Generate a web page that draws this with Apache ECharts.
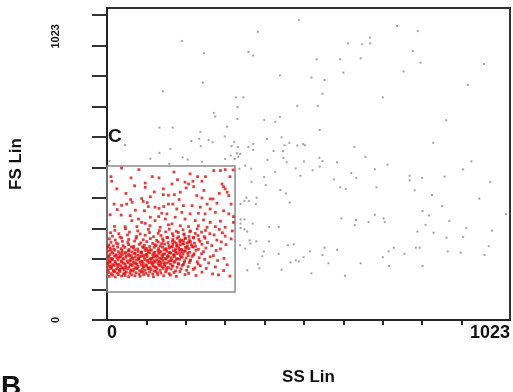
<!DOCTYPE html>
<html>
<head>
<meta charset="utf-8">
<script src="https://cdn.jsdelivr.net/npm/echarts@6/dist/echarts.min.js"></script>
<style>
  html, body { margin: 0; padding: 0; background: #fff; }
  #chart { width: 513px; height: 392px; }
</style>
</head>
<body>
<div id="chart"></div>
<script>
// axis ticks (linear channel scale 0..1023)
const axisMax = 1023;
const tickValues = [0, 100, 200, 300, 400, 500, 600, 700, 800, 900, 1000];
const xTickValues = [100, 200, 300, 400, 500, 600, 700, 800, 900];

// gate C region
const gateSS = [0, 325];
const gateFS = [92, 505];

// events outside the gate (SS, FS)
const grayPoints = [
  [487,984],[383,945],[736,964],[789,947],[359,879],[371,867],[612,907],[648,904],[668,926],[668,907],
  [776,882],[532,855],[592,855],[644,858],[600,811],[796,844],[753,815],[957,839],[439,802],[519,795],
  [552,787],[547,742],[916,771],[700,730],[327,730],[346,730],[331,698],[331,659],[483,702],[535,702],
  [399,656],[427,650],[439,666],[540,623],[861,655],[406,594],[443,599],[463,581],[451,573],[483,572],
  [498,577],[502,573],[323,584],[332,567],[359,567],[371,577],[371,558],[423,554],[447,554],[338,545],
  [333,535],[628,567],[656,535],[828,581],[539,532],[547,521],[407,525],[448,531],[456,517],[500,520],
  [584,517],[712,509],[925,520],[479,497],[540,503],[522,491],[399,469],[427,486],[336,496],[351,506],
  [366,496],[680,494],[620,482],[633,466],[576,461],[491,473],[768,473],[768,458],[800,466],[857,470],
  [904,494],[973,453],[367,453],[403,442],[440,426],[454,415],[592,435],[606,430],[684,435],[781,425],
  [825,410],[945,398],[380,401],[354,401],[339,380],[349,390],[360,390],[378,380],[464,385],[339,330],
  [349,330],[339,316],[339,302],[349,297],[356,290],[370,316],[412,305],[436,305],[595,333],[632,328],
  [629,311],[664,321],[680,345],[702,333],[705,321],[801,357],[817,343],[809,312],[788,290],[829,286],
  [851,374],[869,325],[912,301],[862,270],[904,272],[977,293],[1013,347],[362,261],[379,258],[411,258],
  [351,234],[338,245],[364,251],[398,225],[394,209],[436,217],[459,245],[474,248],[466,189],[479,196],
  [487,192],[499,206],[515,225],[547,213],[552,237],[562,186],[584,230],[604,145],[519,153],[443,165],
  [356,163],[383,183],[387,170],[644,186],[700,206],[715,225],[716,177],[728,237],[755,217],[784,237],
  [794,237],[801,177],[865,225],[898,221],[958,213],[969,242],[190,915],[246,875],[243,778],[142,750],
  [271,679],[275,667],[133,631],[167,631],[305,634],[237,617],[299,602],[46,574],[214,587],[234,594],
  [258,590],[268,583],[238,570],[161,561],[133,548],[110,529],[192,533],[205,526],[241,519],[158,512],
  [316,570],[314,539],[330,547],[324,528],[300,528],[6,521]
];

// events inside the gate (SS, FS)
const redPoints = [
  // upper, sparse part
  [37,498],[61,466],[81,493],[97,449],[97,435],[143,430],[143,411],[132,466],[18,380],[37,376],
  [50,380],[64,386],[88,398],[92,389],[102,385],[156,409],[156,380],[36,344],[59,342],[95,358],
  [105,372],[122,370],[132,366],[144,372],[139,350],[131,339],[110,337],[80,331],[63,326],[97,317],
  [122,326],[148,331],[152,348],[156,312],[19,307],[46,306],[76,306],[109,309],[135,304],[88,320],
  [271,490],[288,490],[300,493],[320,492],[211,479],[179,460],[198,452],[207,446],[218,455],[220,437],
  [201,433],[241,455],[292,446],[296,437],[300,430],[305,419],[309,408],[165,446],[186,419],[171,411],
  [228,408],[241,400],[262,397],[269,397],[254,380],[279,383],[262,364],[237,370],[216,375],[194,375],
  [167,380],[177,364],[190,353],[211,348],[232,350],[249,348],[275,353],[296,358],[309,348],[321,339],
  [173,337],[198,331],[224,326],[245,328],[262,320],[288,324],[165,315],[186,309],[207,306],[232,309],
  [254,304],[275,306],[300,304],[321,320],[12,455],[25,430],[48,415],[70,440],[115,470],[120,420],
  [8,345],[26,362],[72,360],[170,485],[250,470],[312,470],[315,380],[285,415],[230,470],[10,470],
  [60,395],[110,404],[183,395],[246,425],
  // lower, dense part
  [6,143],[14,147],[21,141],[29,149],[37,144],[46,146],[55,142],[63,148],[71,145],[84,143],[93,149],
  [105,146],[118,142],[129,148],[144,145],[161,147],[176,143],[198,149],[226,146],[283,148],[312,144],
  [4,156],[11,152],[19,158],[26,154],[33,159],[42,151],[49,157],[58,153],[66,160],[74,155],[82,151],
  [91,158],[99,153],[108,157],[116,151],[124,159],[137,154],[149,158],[158,152],[170,156],[185,159],
  [207,153],[241,157],[268,151],
  [3,165],[9,169],[16,162],[24,167],[31,163],[38,170],[44,164],[52,168],[60,161],[68,166],[75,169],
  [83,162],[90,167],[97,163],[104,170],[112,165],[120,161],[127,168],[135,163],[143,169],[151,164],
  [163,167],[174,161],[188,168],[202,163],[219,166],[252,169],[296,162],
  [5,176],[12,172],[18,179],[27,174],[35,178],[41,171],[48,177],[56,173],[64,179],[71,172],[79,176],
  [87,180],[94,174],[101,178],[109,172],[117,177],[124,173],[132,179],[140,174],[147,178],[156,172],
  [166,177],[178,173],[191,179],[206,175],[223,171],[237,178],[275,174],
  [2,185],[8,189],[15,182],[22,187],[30,183],[37,190],[45,184],[53,188],[61,182],[69,187],[76,183],
  [84,189],[92,185],[99,181],[107,188],[114,183],[122,190],[130,184],[138,188],[145,182],[153,187],
  [161,183],[170,189],[181,185],[194,182],[209,188],[231,184],[258,187],[305,181],
  [6,195],[13,199],[20,192],[28,197],[36,193],[43,200],[51,194],[59,198],[66,191],[74,196],[81,200],
  [89,193],[96,197],[103,192],[111,199],[119,194],[126,198],[134,191],[142,196],[150,200],[157,193],
  [165,197],[173,192],[184,199],[197,194],[212,197],[229,191],[248,199],[281,195],
  [4,205],[11,202],[19,209],[25,204],[34,208],[40,201],[48,206],[57,210],[64,203],[72,207],[80,202],
  [88,209],[95,204],[102,208],[110,201],[118,206],[125,210],[133,203],[141,207],[148,202],[156,209],
  [163,204],[171,208],[179,201],[188,206],[201,203],[216,209],[234,204],[262,207],[297,202],
  [7,214],[15,219],[23,212],[32,217],[39,213],[47,220],[55,215],[62,211],[70,218],[78,213],[86,219],
  [93,212],[101,216],[108,220],[116,214],[123,211],[131,218],[139,213],[146,217],[154,211],[162,219],
  [169,214],[177,218],[186,212],[193,216],[205,219],[220,213],[240,217],[270,211],
  [3,226],[12,222],[20,229],[29,224],[38,228],[46,221],[54,227],[63,223],[71,230],[79,225],[88,222],
  [97,228],[105,224],[113,229],[121,222],[129,227],[137,223],[145,230],[152,225],[160,221],[168,228],
  [175,223],[183,229],[191,224],[199,227],[210,222],[226,229],[245,224],[277,228],
  [8,236],[17,232],[27,239],[36,234],[45,238],[56,231],[67,237],[78,233],[90,240],[100,235],[109,231],
  [120,238],[131,234],[141,239],[150,232],[158,236],[166,240],[174,233],[182,237],[190,231],[199,238],
  [208,234],[219,239],[232,232],[251,236],[288,233],
  [5,246],[16,243],[28,249],[41,244],[55,247],[68,242],[82,248],[95,245],[108,241],[122,247],[135,243],
  [146,249],[157,244],[167,248],[177,242],[186,246],[195,250],[204,243],[214,247],[225,242],[241,248],
  [266,244],[302,247],
  [10,255],[24,252],[39,258],[53,254],[70,259],[86,253],[101,257],[116,251],[130,256],[143,260],
  [155,254],[166,258],[176,252],[185,256],[194,260],[203,253],[212,257],[222,252],[236,258],[255,254],
  [290,256],
  [6,266],[21,262],[37,269],[55,264],[74,268],[92,263],[110,267],[126,261],[141,266],[154,270],
  [167,264],[178,268],[189,262],[199,267],[209,263],[220,269],[233,264],[249,268],[279,262],[315,266],
  [14,275],[33,272],[52,279],[75,274],[97,278],[118,273],[137,277],[152,271],[168,276],[182,273],
  [196,279],[208,274],[219,271],[231,277],[247,273],[272,279],[300,275],
  [9,286],[30,283],[57,288],[84,282],[108,287],[130,284],[149,289],[166,283],[181,287],[195,282],
  [210,289],[224,284],[240,288],[261,283],[293,286],
  [20,294],[47,299],[78,292],[105,297],[133,293],[158,298],[176,291],[193,296],[212,292],[229,299],
  [250,294],[285,297],[318,292],
  // core
  [18,161],[33,167],[47,172],[61,164],[77,170],[92,176],[106,168],[121,174],[136,179],[152,171],
  [167,177],[182,183],[196,189],[211,195],[26,181],[41,187],[58,193],[73,185],[88,191],[103,197],
  [117,186],[131,192],[146,188],[161,194],[176,200],[191,206],[206,211],[221,217],[14,199],[31,205],
  [49,211],[66,202],[83,208],[99,214],[114,203],[128,209],[144,215],[158,221],[173,226],[188,231],
  [203,236],[216,241],[38,221],[55,226],[71,218],[87,223],[102,229],[119,219],[134,225],[149,234],
  [163,239],[178,245],[192,250],[207,255],[62,240],[93,237],[125,244],[139,251],[171,256],[185,262],
  [198,269],[45,154],[87,158],[128,155],[59,181],[80,199],[112,190],[138,201],[154,206],[170,213],
  [184,220],[197,225],[23,214],[10,178],[7,191],[4,209],[9,230],[2,240]
];

const font = 'Liberation Sans, Arial, sans-serif';
const chart = echarts.init(document.getElementById('chart'));

const option = {
  backgroundColor: '#fff',
  animation: false,
  grid: {
    left: 107,
    right: 3,
    top: 8,
    bottom: 72,
    show: true,
    borderColor: '#333',
    borderWidth: 2,
    outerBoundsMode: 'none',
  },
  xAxis: {
    type: 'value',
    min: 0,
    max: axisMax,
    interval: 100,
    name: 'SS Lin',
    nameLocation: 'middle',
    nameGap: 49,
    nameTextStyle: { fontFamily: font, fontWeight: 'bold', fontSize: 17, color: '#111' },
    splitLine: { show: false },
    axisLine: { lineStyle: { color: '#222', width: 2 } },
    axisTick: {
      length: 5,
      customValues: xTickValues,
      lineStyle: { color: '#222', width: 2 },
    },
    axisLabel: {
      customValues: [0, axisMax],
      formatter: (v) => String(v),
      alignMinLabel: 'left',
      alignMaxLabel: 'right',
      margin: 4,
      fontFamily: font,
      fontWeight: 'bold',
      fontSize: 18,
      color: '#111',
    },
  },
  yAxis: {
    type: 'value',
    min: 0,
    max: axisMax,
    interval: 100,
    name: 'FS Lin',
    nameLocation: 'middle',
    nameRotate: 90,
    nameGap: 82,
    nameTextStyle: { fontFamily: font, fontWeight: 'bold', fontSize: 17, color: '#111' },
    splitLine: { show: false },
    axisLine: { lineStyle: { color: '#222', width: 2 } },
    axisTick: {
      length: 15,
      customValues: tickValues,
      lineStyle: { color: '#333', width: 2 },
    },
    axisLabel: {
      customValues: [0, 930],
      formatter: (v) => (v === 0 ? '0' : String(axisMax)),
      rotate: 90,
      margin: 46,
      fontFamily: font,
      fontWeight: 'bold',
      fontSize: 11,
      color: '#111',
    },
  },
  graphic: [
    {
      type: 'text',
      left: 108,
      top: 127,
      style: { text: 'C', font: 'bold 19px ' + font, fill: '#111' },
    },
    {
      type: 'text',
      left: 1,
      top: 373,
      style: { text: 'B', font: 'bold 28px ' + font, fill: '#111' },
    },
  ],
  series: [
    {
      name: 'gate',
      type: 'scatter',
      data: [],
      silent: true,
      markArea: {
        silent: true,
        itemStyle: { color: 'rgba(0,0,0,0)', borderColor: '#8a8a8a', borderWidth: 1.5 },
        data: [[{ coord: [gateSS[0], gateFS[0]] }, { coord: [gateSS[1], gateFS[1]] }]],
      },
    },
    {
      name: 'outside',
      type: 'scatter',
      symbol: 'rect',
      symbolSize: 2,
      itemStyle: { color: '#8c8c8c' },
      data: grayPoints,
    },
    {
      name: 'inside',
      type: 'scatter',
      symbol: 'rect',
      symbolSize: 2.8,
      itemStyle: { color: '#e30d0d' },
      data: redPoints,
    },
  ],
};

chart.setOption(option);
</script>
</body>
</html>
